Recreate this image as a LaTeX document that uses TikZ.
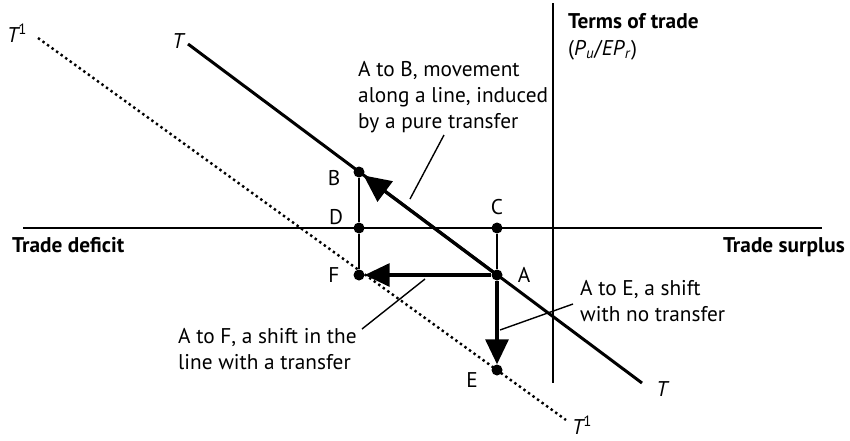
\documentclass[tikz,border=0pt]{standalone}
\usepackage{fontspec}
\setmainfont{PT Sans}
\usepackage{tikz}
\usetikzlibrary{arrows.meta}

\begin{document}
\begin{tikzpicture}[x=1pt,y=-1pt,
  every node/.style={font=\fontsize{21.3}{26}\selectfont,inner sep=0pt},
  dot/.style={circle,fill=black,minimum size=11pt},
  axis/.style={line width=1.3pt},
  guide/.style={line width=1.4pt},
  move/.style={line width=3.2pt,-{Triangle[length=25pt,width=23pt]}},
  leader/.style={line width=1.4pt}]
  \useasboundingbox (0,0) rectangle (850,440);
  % axes
  \coordinate (xl) at (23,228);
  \coordinate (xr) at (822,228);
  \coordinate (yt) at (553,3);
  \coordinate (yb) at (553,383);
  \draw[axis] (xl) -- (xr);
  \draw[axis] (yt) -- (yb);
  \node[anchor=north west,align=left] (tot) at (568,13)
    {\bfseries Terms of trade\\[1pt](\textit{P}\textsubscript{\textit{u}}/\textit{EP}\textsubscript{\textit{r}})};
  \node[anchor=base west] (deficit) at (12,252) {\bfseries Trade deficit};
  \node[anchor=base east] (surplus) at (845,252) {\bfseries Trade surplus};
  % T and T^1 lines
  \coordinate (Ttop) at (188,44);
  \coordinate (Tbot) at (642,383);
  \coordinate (T1top) at (38,38);
  \coordinate (T1bot) at (566,420);
  \draw[line width=3pt] (Ttop) -- (Tbot);
  \draw[line width=2.4pt,dash pattern=on 2.4pt off 3.2pt] (T1top) -- (T1bot);
  \node (labTtop) at (178,41) {\itshape T};
  \node (labTbot) at (662,389) {\itshape T};
  \node (labT1top) at (17,33) {\itshape T\textsuperscript{\upshape 1}};
  \node (labT1bot) at (582,425) {\itshape T\textsuperscript{\upshape 1}};
  % points
  \node[dot] (A) at (497,275) {};
  \node[dot] (B) at (359,172) {};
  \node[dot] (C) at (497,228) {};
  \node[dot] (D) at (359,228) {};
  \node[dot] (E) at (497,370) {};
  \node[dot] (F) at (359,275) {};
  \node (labA) at (524,275) {A};
  \node (labB) at (334,178) {B};
  \node (labC) at (497,207) {C};
  \node (labD) at (336,217) {D};
  \node (labE) at (472,380) {E};
  \node (labF) at (334,275) {F};
  \draw[guide] (B) -- (D) -- (F);
  \draw[guide] (C) -- (A);
  % movements
  \draw[move,-{Triangle[length=27pt,width=25pt]}] (A) -- (B);
  \draw[move] (A) -- (F);
  \draw[move] (A) -- (E);
  % notes
  \node[anchor=north west,align=left] (noteAB) at (358,61)
    {A to B, movement\\along a line, induced\\by a pure transfer};
  \node[anchor=north west,align=left] (noteAF) at (178,328)
    {A to F, a shift in the\\line with a transfer};
  \node[anchor=north west,align=left] (noteAE) at (580,280)
    {A to E, a shift\\with no transfer};
  \coordinate (ldAB) at (444,135);
  \coordinate (ldAB') at (410,199);
  \coordinate (ldAF) at (425,279);
  \coordinate (ldAF') at (362,329);
  \coordinate (ldAE) at (573,304);
  \coordinate (ldAE') at (500,330);
  \draw[leader] (ldAB) -- (ldAB');
  \draw[leader] (ldAF) -- (ldAF');
  \draw[leader] (ldAE) -- (ldAE');
\end{tikzpicture}
\end{document}
